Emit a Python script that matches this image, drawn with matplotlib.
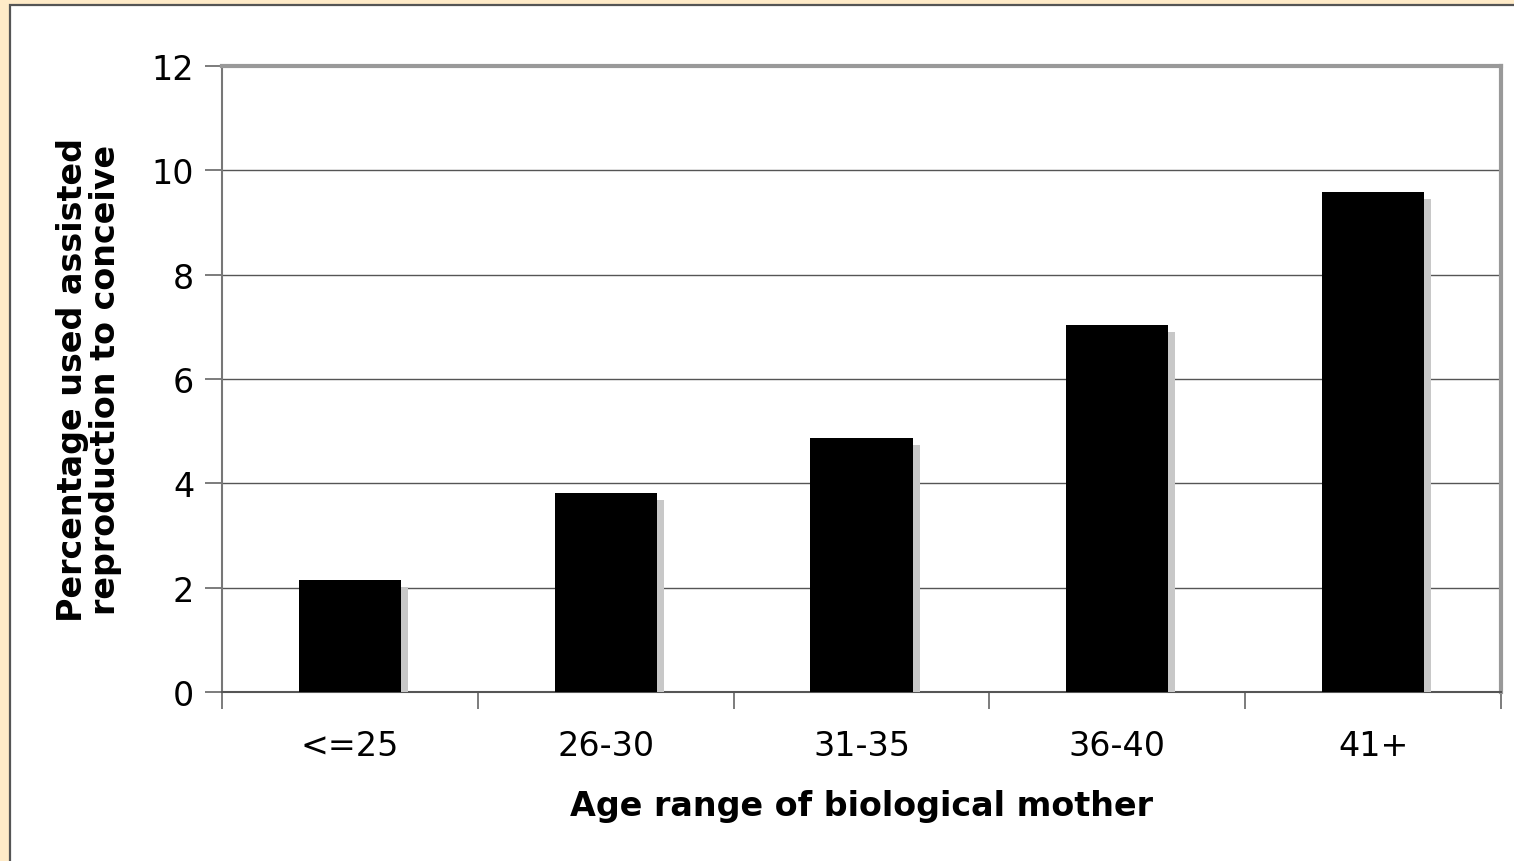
import numpy as np
from matplotlib import pyplot as plt
from matplotlib import patheffects as pe
from matplotlib.patches import Rectangle

categories = ['<=25', '26-30', '31-35', '36-40', '41+']
values = [2.15, 3.82, 4.87, 7.03, 9.58]
yticks = [0, 2, 4, 6, 8, 10, 12]

W, H = 1514, 862
fig = plt.figure(figsize=(W / 100, H / 100), dpi=100)
fig.patch.set_facecolor('#ffebc8')

# white panel with dark border on left/top
fig.patches.append(Rectangle((10 / W, -0.1), 1.1, (H - 6) / H + 0.1,
                             transform=fig.transFigure, facecolor='white',
                             edgecolor='#555555', linewidth=1.6, zorder=-10))

ax = fig.add_axes([222 / W, 1 - 693 / H, (1501 - 222) / W, (693 - 67) / H])
ax.set_facecolor('white')

x_pos = np.arange(len(categories))
shadow = [pe.SimplePatchShadow(offset=(5, -5), shadow_rgbFace='#c8c8c8', alpha=1.0), pe.Normal()]
bars = ax.bar(x_pos, values, width=0.4, color='black', zorder=3)
for b in bars:
    b.set_path_effects(shadow)

ax.set_xlim(-0.5, len(categories) - 0.5)
ax.set_ylim(0, 12)
ax.set_yticks(yticks)
ax.yaxis.grid(True, color='#555555', linewidth=1.0)
ax.set_axisbelow(True)

ax.set_xticks(x_pos)
ax.set_xticklabels(categories)
ax.set_xticks(np.arange(len(categories) + 1) - 0.5, minor=True)
ax.tick_params(axis='x', which='major', length=0, pad=27, labelsize=24)
ax.tick_params(axis='x', which='minor', length=12, width=1.2, color='#666666')
ax.tick_params(axis='y', length=12, width=1.2, color='#666666', pad=8, labelsize=24)

for s in ['top', 'right']:
    ax.spines[s].set_color('#999999')
    ax.spines[s].set_linewidth(3)
ax.spines['left'].set_color('#777777')
ax.spines['left'].set_linewidth(1.5)
ax.spines['bottom'].set_color('#555555')
ax.spines['bottom'].set_linewidth(1.5)

ax.set_xlabel('Age range of biological mother', fontsize=24, fontweight='bold', labelpad=19)
ax.set_ylabel('Percentage used assisted\nreproduction to conceive', fontsize=24,
              fontweight='bold', labelpad=21, linespacing=1.0)

plt.savefig('out.png', dpi=100, facecolor=fig.get_facecolor())
plt.close()
